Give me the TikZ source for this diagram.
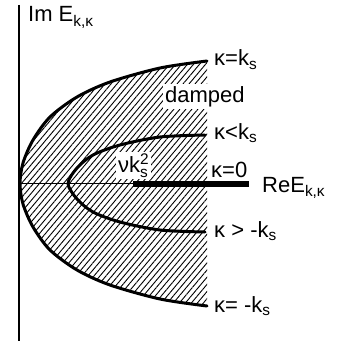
\documentclass[tikz,border=0pt]{standalone}
\usepackage{fontspec}
\setmainfont{Liberation Sans}
\usetikzlibrary{patterns.meta}

\begin{document}
\begin{tikzpicture}[x=1pt,y=-1pt,font=\fontsize{22}{26}\selectfont]
        % Style Definitions
        \tikzstyle{axis} = [line width=1.3pt]
        \tikzstyle{branch} = [line width=3pt, line cap=round]
        \tikzstyle{label} = [anchor=base west, inner sep=0pt]
        \tikzstyle{boxed} = [anchor=base west, fill=white, inner sep=2pt]
        \tikzstyle{hatch} = [pattern={Lines[angle=50, distance=4.6pt, line width=0.9pt]}]

        \useasboundingbox (0,0) rectangle (338,345);

        % Coordinates
        \coordinate (top) at (19,5);
        \coordinate (bottom) at (19,341);
        \coordinate (origin) at (19,183.5);
        \coordinate (barstart) at (133,183.5);
        \coordinate (barend) at (249,183.5);

        % Damped region
        \fill[hatch] plot[smooth] coordinates {(207,61) (160,68) (110,82) (77,97) (50,117) (33,140) (23,163) (20,183.5)
            (23,204) (33,227) (50,250) (77,270) (110,285) (160,299) (207,306)} -- cycle;

        % Axes
        \draw[axis] (top) -- (bottom);
        \draw[axis] (origin) -- (barend);
        \draw[line width=6pt] (barstart) -- (barend);

        % Branches
        \draw[branch] plot[smooth] coordinates {(207,61) (160,68) (110,82) (77,97) (50,117) (33,140) (23,163) (20,183.5)
            (23,204) (33,227) (50,250) (77,270) (110,285) (160,299) (207,306)};
        \draw[branch] plot[smooth] coordinates {(205,135) (160,137) (120,145) (93,155) (77,168) (68,183.5)
            (77,199) (93,212) (120,222) (160,230) (205,232)};

        % Nodes
        \node (imag) [label] at (28,22) {Im E\textsubscript{k,κ}};
        \node (real) [label] at (262,192) {ReE\textsubscript{k,κ}};
        \node (upper) [label] at (214,66) {κ=k\textsubscript{s}};
        \node (damped) [boxed] at (163,102) {damped};
        \node (inner) [label] at (214,139) {κ<k\textsubscript{s}};
        \node (gap) [boxed] at (116,172) {νk$_{\mathrm{s}}^{\mathrm{2}}$};
        \node (zero) [label] at (211,177) {κ=0};
        \node (lower) [label] at (214,237) {κ > -k\textsubscript{s}};
        \node (outer) [label] at (214,312) {κ= -k\textsubscript{s}};

    \end{tikzpicture}
\end{document}
